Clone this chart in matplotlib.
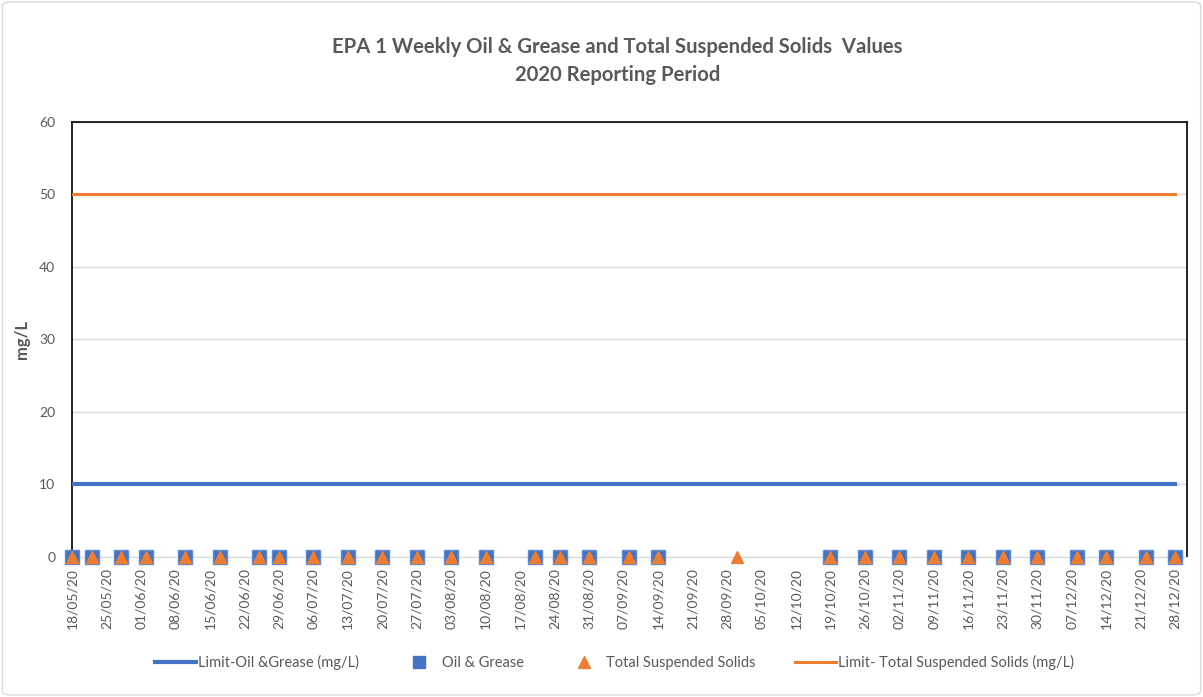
import matplotlib
matplotlib.use("Agg")
import matplotlib.pyplot as plt
import matplotlib.dates as mdates
from matplotlib.lines import Line2D
from matplotlib.patches import FancyBboxPatch
import datetime as dt

plt.rcParams['font.family'] = ['Lato', 'DejaVu Sans']

# ---- data ----
sample_dates = ["2020-05-18", "2020-05-22", "2020-05-28", "2020-06-02", "2020-06-10",
                "2020-06-17", "2020-06-25", "2020-06-29", "2020-07-06", "2020-07-13",
                "2020-07-20", "2020-07-27", "2020-08-03", "2020-08-10", "2020-08-20",
                "2020-08-25", "2020-08-31", "2020-09-08", "2020-09-14", "2020-09-30",
                "2020-10-19", "2020-10-26", "2020-11-02", "2020-11-09", "2020-11-16",
                "2020-11-23", "2020-11-30", "2020-12-08", "2020-12-14", "2020-12-22",
                "2020-12-28"]
oil_grease = [0, 0, 0, 0, 0, 0, 0, 0, 0, 0, 0, 0, 0, 0, 0, 0, 0, 0, 0, None,
              0, 0, 0, 0, 0, 0, 0, 0, 0, 0, 0]
tss = [0] * 31
limit_oil = [10] * 31
limit_tss = [50] * 31

title_lines = ["EPA 1 Weekly Oil & Grease and Total Suspended Solids  Values",
               "2020 Reporting Period"]
y_label = "mg/L"
series_names = ["Limit-Oil &Grease (mg/L)", "Oil & Grease", "Total Suspended Solids",
                "Limit- Total Suspended Solids (mg/L)"]
tick_start = "2020-05-18"
tick_end = "2020-12-28"

# ---- plot ----
BLUE = "#4472C4"
ORANGE = "#ED7D31"
GREY = "#595959"

dates = [dt.datetime.strptime(d, "%Y-%m-%d") for d in sample_dates]

fig = plt.figure(figsize=(12.03, 6.97), dpi=100)
fig.patch.set_facecolor("white")
fig.patches.append(FancyBboxPatch((0.002, 0.003), 0.996, 0.994, boxstyle="round,pad=0,rounding_size=0.006",
                                  transform=fig.transFigure, facecolor="none",
                                  edgecolor="#D9D9D9", linewidth=1))
ax = fig.add_axes([0.0599, 0.2009, 0.9268, 0.6241])

ax.plot(dates, limit_oil, color=BLUE, linewidth=3.0, zorder=3)
ax.plot(dates, limit_tss, color=ORANGE, linewidth=2.2, zorder=3)
og_d = [d for d, v in zip(dates, oil_grease) if v is not None]
og_v = [v for v in oil_grease if v is not None]
ax.plot(og_d, og_v, linestyle="none", marker="s", markersize=10, color=BLUE,
        markeredgecolor="#5B8BD6", zorder=4, clip_on=False)
ax.plot(dates, tss, linestyle="none", marker="^", markersize=8, color=ORANGE,
        markeredgecolor=ORANGE, zorder=5, clip_on=False)

t0 = dt.datetime.strptime(tick_start, "%Y-%m-%d")
t1 = dt.datetime.strptime(tick_end, "%Y-%m-%d")
ticks = []
t = t0
while t <= t1:
    ticks.append(t)
    t += dt.timedelta(days=7)
ax.set_xticks(ticks)
ax.xaxis.set_major_formatter(mdates.DateFormatter("%d/%m/%y"))
ax.set_xlim(t0, t1 + dt.timedelta(days=2.4))
ax.set_ylim(0, 60)
ax.set_yticks(range(0, 61, 10))

for lab in ax.get_xticklabels():
    lab.set_rotation(90)
ax.tick_params(axis="x", labelsize=10, colors=GREY, length=0, pad=8)
ax.tick_params(axis="y", labelsize=10, colors=GREY, length=0, pad=12)
for lab in ax.get_xticklabels() + ax.get_yticklabels():
    lab.set_color(GREY)

ax.grid(axis="y", color="#D9D9D9", linewidth=1)
ax.set_axisbelow(True)
for s in ["top", "left", "right"]:
    ax.spines[s].set_color("black")
    ax.spines[s].set_linewidth(1.2)
ax.spines["bottom"].set_color("#D9D9D9")

ax.set_ylabel(y_label, fontsize=12, fontweight="bold", color=GREY, labelpad=7)

fig.text(0.513, 0.932, title_lines[0], ha="center", va="center", fontsize=14.6,
         fontweight="bold", color=GREY)
fig.text(0.513, 0.893, title_lines[1], ha="center", va="center", fontsize=14.6,
         fontweight="bold", color=GREY)

handles = [Line2D([], [], color=BLUE, linewidth=3.0),
           Line2D([], [], linestyle="none", marker="s", markersize=8, color=BLUE),
           Line2D([], [], linestyle="none", marker="^", markersize=8, color=ORANGE),
           Line2D([], [], color=ORANGE, linewidth=2.2)]
fig.legend(handles, series_names, loc="center", bbox_to_anchor=(0.511, 0.05), ncol=4,
           frameon=False, fontsize=10.5, labelcolor=GREY, handlelength=2.8,
           handletextpad=0.15, columnspacing=2.7)

fig.savefig("out.png", dpi=100)
